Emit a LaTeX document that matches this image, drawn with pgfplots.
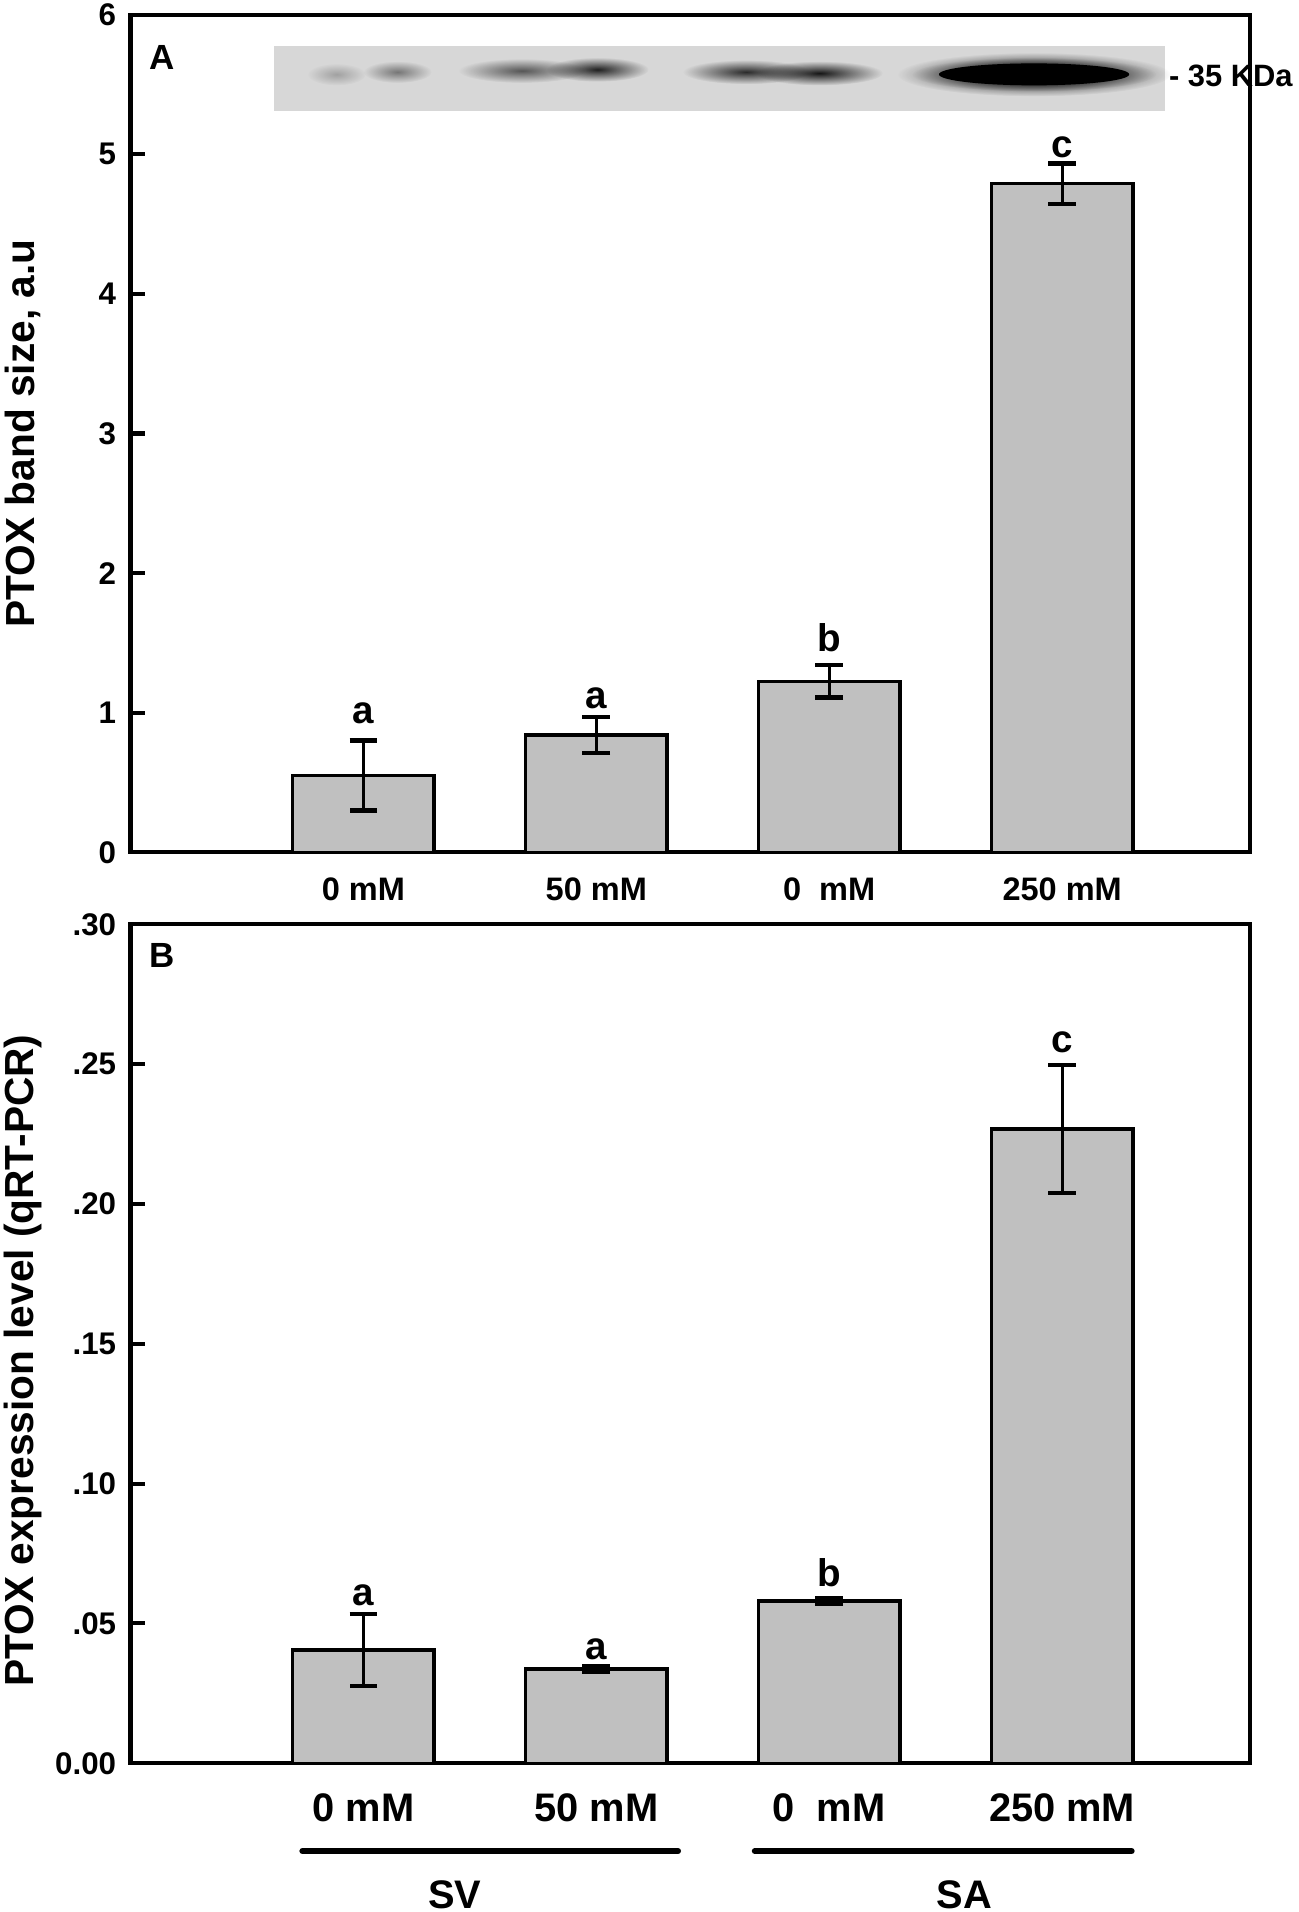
\documentclass[border=0pt]{standalone}
\usepackage{fontspec}
\setmainfont{Liberation Sans}
\usepackage{pgfplots}
\usepackage{pgfplotstable}
\pgfplotsset{compat=1.18}
\usetikzlibrary{fadings}
\definecolor{barfill}{RGB}{192,192,192}
\definecolor{blot}{RGB}{215,215,215}
\tikzfading[name=soft, inner color=transparent!0, outer color=transparent!100]

\pgfplotstableread{
x y e
0 0.55 0.25
1 0.84 0.13
2 1.225 0.115
3 4.79 0.145
}\dataA
\pgfplotstableread{
x y e
0 0.0405 0.0128
1 0.0337 0.0010
2 0.0580 0.0010
3 0.2268 0.0228
}\dataB

\newcommand{\fs}[1]{\bfseries\fontsize{#1}{#1}\selectfont}

\pgfplotsset{panel/.style={
  scale only axis, width=275.4pt,
  xmin=-1, xmax=3.806, ymin=0,
  axis line style={line width=1pt},
  xtick={0,1,2,3},
  major x tick style={draw=none},
  ytick pos=left,
  tick align=inside,
  major tick length=3.5pt,
  major y tick style={line width=1pt, black},
  yticklabel style={font=\fs{7.7}},
  every axis y label/.style={rotate=90, anchor=center, font=\fs{10}},
  ybar, bar width=34.8pt,
  clip=false,
}}

\begin{document}
\begin{tikzpicture}
\useasboundingbox (0,0) rectangle (319.5pt,-470.4pt);

% Panel A
\begin{axis}[panel, at={(32.1pt,-3.6pt)}, anchor=north west,
  height=206.1pt, ymax=6,
  ytick={0,1,2,3,4,5,6}, yticklabels={0,1,2,3,4,5,6},
  xticklabels={0 mM,50 mM,0\hspace{0.55em}mM,250 mM},
  xticklabel style={font=\fs{8}, anchor=center, yshift=-5.7pt},
  ylabel={PTOX band size, a.u},
  ylabel style={at={(axis description cs:-0.096,0.5)}},
]
\addplot[fill=barfill, draw=black, line width=0.85pt,
  error bars/.cd, y dir=both, y explicit,
  error bar style={line width=0.8pt, black},
  error mark options={rotate=90, mark size=3.4pt, line width=1.1pt, black}]
  table[x=x, y=y, y error=e]{\dataA};
\node[font=\fs{9.5}] at (axis cs:0,0.995) {a};
\node[font=\fs{9.5}] at (axis cs:1,1.10) {a};
\node[font=\fs{9.5}] at (axis cs:2,1.536) {b};
\node[font=\fs{9.5}] at (axis cs:3,5.05) {c};
\node[font=\fs{8.6}] at (axis cs:-0.864,5.69) {A};
\end{axis}

% Panel B
\begin{axis}[panel, at={(32.1pt,-227.4pt)}, anchor=north west,
  height=206.4pt, ymax=0.30,
  ytick={0,0.05,0.10,0.15,0.20,0.25,0.30},
  yticklabels={0.00,.05,.10,.15,.20,.25,.30},
  xticklabels={0 mM,50 mM,0\hspace{0.55em}mM,250 mM},
  xticklabel style={font=\fs{9.8}, anchor=center, yshift=-7.5pt},
  ylabel={PTOX expression level (qRT-PCR)},
  ylabel style={at={(axis description cs:-0.096,0.48)}},
]
\addplot[fill=barfill, draw=black, line width=0.85pt,
  error bars/.cd, y dir=both, y explicit,
  error bar style={line width=0.8pt, black},
  error mark options={rotate=90, mark size=3.4pt, line width=1.1pt, black}]
  table[x=x, y=y, y error=e]{\dataB};
\node[font=\fs{9.5}] at (axis cs:0,0.0602) {a};
\node[font=\fs{9.5}] at (axis cs:1,0.0408) {a};
\node[font=\fs{9.5}] at (axis cs:2,0.068) {b};
\node[font=\fs{9.5}] at (axis cs:3,0.2577) {c};
\node[font=\fs{8.6}] at (axis cs:-0.864,0.289) {B};
\end{axis}

% decorations in display-pixel units
\begin{scope}[x=0.3pt, y=-0.3pt]
  \fill[blot] (225,38) rectangle (955,91);
  \fill[black, path fading=soft, fill opacity=0.25] (276,61) ellipse (24 and 9);
  \fill[black, path fading=soft, fill opacity=0.45] (326,59) ellipse (28 and 9);
  \fill[black, path fading=soft, fill opacity=0.6] (428,58) ellipse (52 and 10);
  \fill[black, path fading=soft, fill opacity=0.85] (490,57) ellipse (42 and 10);
  \fill[black, path fading=soft, fill opacity=0.8] (612,59) ellipse (52 and 10);
  \fill[black, path fading=soft, fill opacity=0.9] (672,60) ellipse (52 and 10);
  \fill[black, path fading=soft, fill opacity=1] (848,61) ellipse (112 and 18);
  \fill[black, path fading=soft, fill opacity=1] (848,61) ellipse (100 and 14);
  \fill[black] (848,61) ellipse (78 and 9);
  \node[anchor=west, inner sep=0pt, font=\fs{7.6}] at (958,62) {- 35 KDa};

  \draw[line width=1.5pt, line cap=round] (248,1518) -- (556,1518);
  \draw[line width=1.5pt, line cap=round] (619,1518) -- (928,1518);
  \node[font=\fs{9.8}] at (373,1554) {SV};
  \node[font=\fs{9.8}] at (791,1554) {SA};
\end{scope}
\end{tikzpicture}
\end{document}
